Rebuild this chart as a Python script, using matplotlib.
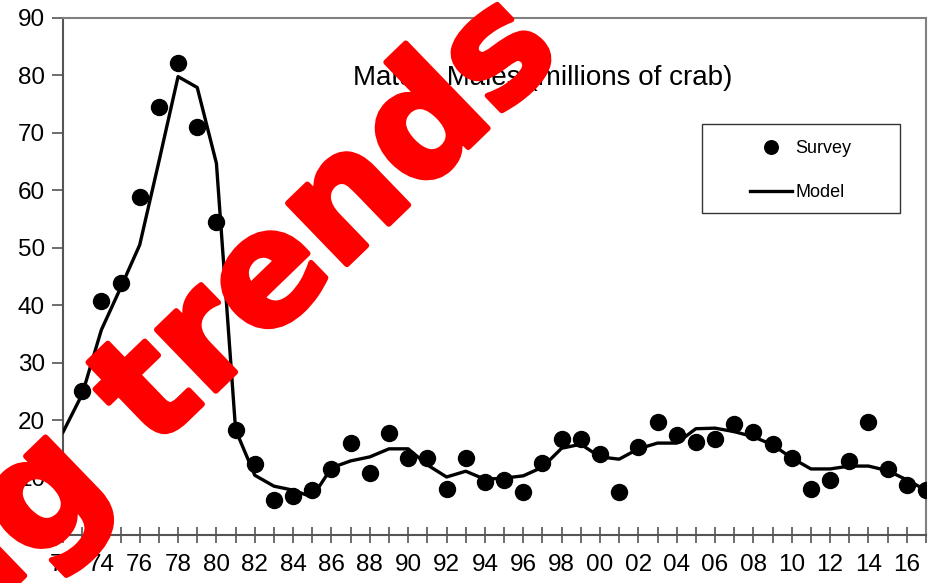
import numpy as np
import matplotlib.pyplot as plt
import matplotlib.patheffects as pe
from matplotlib.patches import Rectangle

plt.rcParams['font.family'] = ['Liberation Sans', 'DejaVu Sans']

# model estimates, 1972-2017
model_years = np.arange(1972, 2018)
model = [17.9, 24.5, 35.7, 43.0, 50.5, 65.0, 79.8, 77.9, 64.7, 18.3,
         10.4, 8.5, 7.8, 6.6, 11.7, 12.9, 13.6, 15.0, 15.0, 12.2,
         10.1, 11.1, 9.7, 9.9, 10.3, 11.8, 15.1, 15.8, 13.6, 13.2,
         15.0, 16.0, 16.0, 18.5, 18.6, 18.0, 17.1, 15.7, 13.4, 11.5,
         11.5, 12.0, 12.0, 11.2, 9.6, 7.8]

# survey abundance, 1973-2017
survey_years = np.arange(1973, 2018)
survey = [25.0, 40.7, 43.9, 58.8, 74.5, 82.2, 71.0, 54.5, 18.3, 12.4,
          6.1, 6.8, 7.8, 11.5, 16.0, 10.8, 17.8, 13.4, 13.4, 8.0,
          13.4, 9.2, 9.6, 7.5, 12.5, 16.7, 16.7, 14.1, 7.5, 15.3,
          19.7, 17.4, 16.2, 16.7, 19.3, 17.9, 15.8, 13.4, 8.0, 9.6,
          12.9, 19.7, 11.5, 8.7, 7.8]

label_years = np.arange(1972, 2018, 2)
tick_labels = ['%02d' % (y % 100) for y in label_years]

fig = plt.figure(figsize=(9.32, 5.83), dpi=100)
ax = fig.add_axes([63/932, 48/583, 863/932, 517/583])

ax.plot(model_years, model, color='black', lw=2.4, label='Model', zorder=3)
ax.plot(survey_years, survey, 'o', color='black', ms=11.5, label='Survey', zorder=4)

ax.set_xlim(1972, 2017)
ax.set_ylim(0, 90)
ax.set_yticks(np.arange(0, 91, 10))
ax.set_xticks(label_years)
ax.set_xticklabels(tick_labels)
ax.set_xticks(np.arange(1972, 2018), minor=True)
ax.tick_params(axis='y', direction='out', length=8, width=1.2, color='#555555',
               labelsize=17.5, pad=5)
ax.tick_params(axis='x', which='both', direction='inout', length=12, width=1.2,
               color='#555555', labelsize=17.5, pad=8)
for s in ax.spines.values():
    s.set_color('#808080')
    s.set_linewidth(1.5)
ax.spines['left'].set_color('#555555')
ax.spines['bottom'].set_color('#555555')

ax.text(0.556, 0.884, 'Mature Males (millions of crab)', transform=ax.transAxes,
        ha='center', va='center', fontsize=20)

# legend
h, l = ax.get_legend_handles_labels()
leg = ax.legend(h[::-1], l[::-1], loc='upper left', bbox_to_anchor=(750/932, 1-140/583),
                bbox_transform=fig.transFigure, frameon=False, fontsize=13,
                handlelength=2.3, handletextpad=0.2, labelspacing=1.5,
                borderpad=0, borderaxespad=0, markerscale=0.85)
fig.patches.append(Rectangle((702/932, 1-213/583), 198/932, 89/583,
                             transform=fig.transFigure, fill=False,
                             edgecolor='#333333', lw=1.0))

# watermark
fig.text(0.254, 0.364, 'Big trends', color='#ff0000', fontsize=112,
         fontweight='bold', family='DejaVu Sans', rotation=44,
         rotation_mode='anchor', ha='center', va='baseline', zorder=10,
         path_effects=[pe.withStroke(linewidth=4, foreground='#ff0000')])

fig.savefig('out.png', dpi=100)
